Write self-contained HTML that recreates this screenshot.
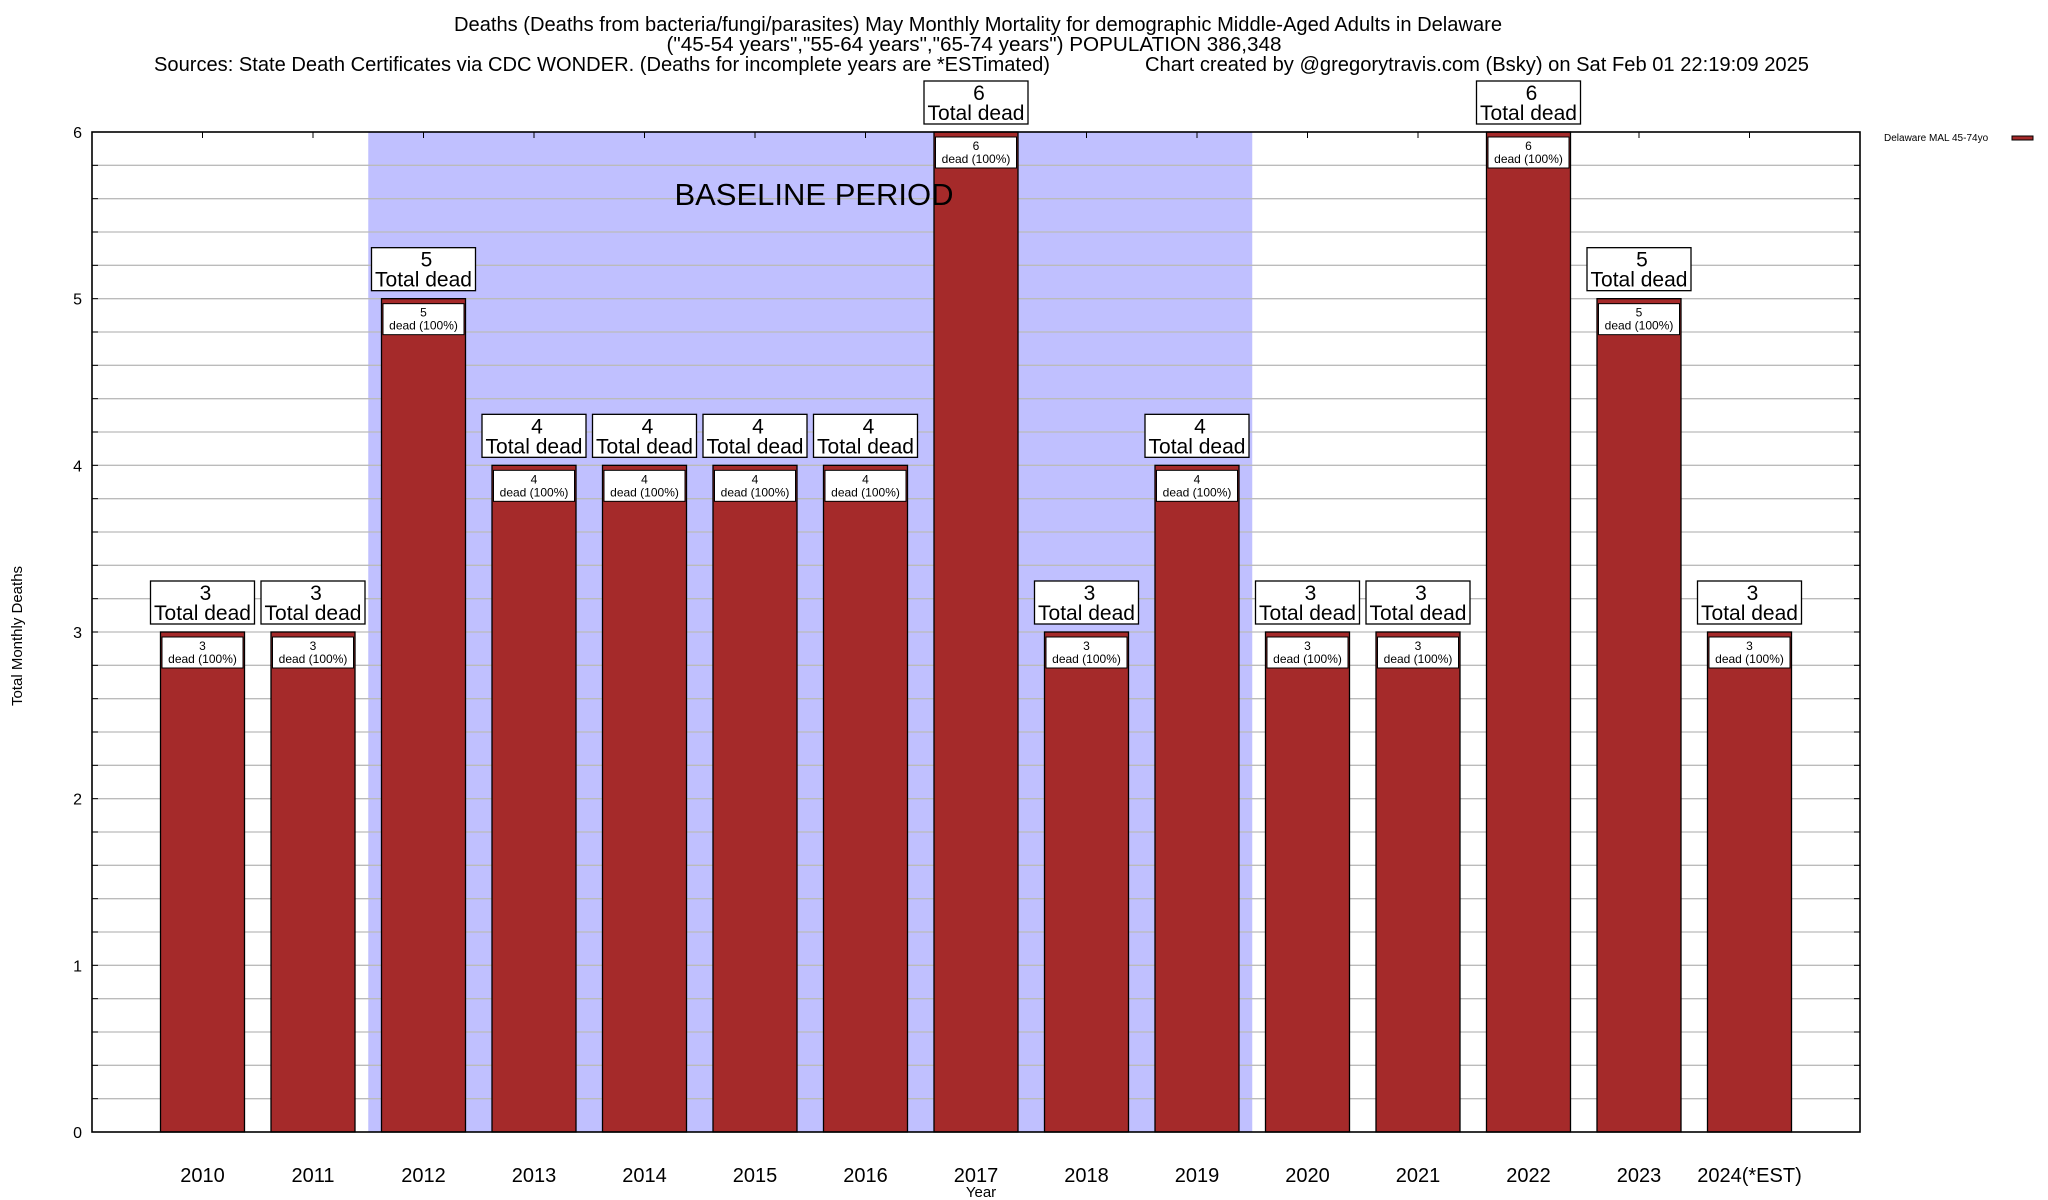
<!DOCTYPE html>
<html><head><meta charset="utf-8">
<style>html,body{margin:0;padding:0;background:#fff}svg{display:block;font-family:"Liberation Sans",sans-serif}</style>
</head><body>
<svg id="chart" width="2048" height="1200" viewBox="0 0 2048 1200" xmlns="http://www.w3.org/2000/svg">
<rect width="2048" height="1200" fill="#fff"/>
<text x="978" y="31" font-size="20" text-anchor="middle" textLength="1048" lengthAdjust="spacingAndGlyphs">Deaths (Deaths from bacteria/fungi/parasites) May Monthly Mortality for demographic Middle-Aged Adults in Delaware</text>
<text x="974" y="51" font-size="20" text-anchor="middle" textLength="615" lengthAdjust="spacingAndGlyphs">("45-54 years","55-64 years","65-74 years") POPULATION 386,348</text>
<text x="154" y="71" font-size="20" textLength="896" lengthAdjust="spacingAndGlyphs">Sources: State Death Certificates via CDC WONDER. (Deaths for incomplete years are *ESTimated)</text>
<text x="1145" y="71" font-size="20" textLength="664" lengthAdjust="spacingAndGlyphs">Chart created by @gregorytravis.com (Bsky) on Sat Feb 01 22:19:09 2025</text>
<g id="plot"></g>
<text x="22" y="636" font-size="15" text-anchor="middle" transform="rotate(-90 22 636)">Total Monthly Deaths</text>
<text x="981" y="1197" font-size="15" text-anchor="middle">Year</text>
<g>
<text x="1884" y="141" font-size="10" fill="#000">Delaware MAL 45-74yo</text>
<rect x="2012" y="136" width="21" height="4" fill="#a52a2a" stroke="#000" stroke-width="1"/>
</g>
</svg>
<script>
const categories = ["2010","2011","2012","2013","2014","2015","2016","2017","2018","2019","2020","2021","2022","2023","2024(*EST)"];
const deaths = [3,3,5,4,4,4,4,6,3,4,3,3,6,5,3];
const yTicks = [0,1,2,3,4,5,6];
const baselineStart = 2, baselineEnd = 9;

const NS = "http://www.w3.org/2000/svg";
const L = 92, R = 1860, T = 132, B = 1132, yMax = 6;
const slot = (R - L) / (categories.length + 1);
const xC = i => L + slot * (i + 1);
const yS = v => B - (v / yMax) * (B - T);
const g = document.getElementById('plot');
function mk(tag, attrs, parent) {
  const e = document.createElementNS(NS, tag);
  for (const k in attrs) e.setAttribute(k, attrs[k]);
  (parent || g).appendChild(e);
  return e;
}
// baseline shading
const shade = mk('rect', {x: xC(baselineStart) - slot/2, y: T, width: slot * (baselineEnd - baselineStart + 1), height: B - T, fill: '#c0c0ff'});


// grid
for (let k = 1; k < yMax * 5; k++) {
  const y = yS(k / 5);
  const gl = mk('line', {x1: L, x2: R, y1: y, y2: y, stroke: '#bbb', 'stroke-width': 1.3});
  
  
  mk('line', {x1: L, x2: L + 6, y1: y, y2: y, stroke: '#000', 'stroke-width': 1});
  mk('line', {x1: R - 6, x2: R, y1: y, y2: y, stroke: '#000', 'stroke-width': 1});
}
// y tick labels
yTicks.forEach(v => {
  const t = mk('text', {x: 82, y: yS(v) + 6, 'font-size': 16, 'text-anchor': 'end'});
  t.textContent = v;
  
  
});
// bars
const bw = 84;
categories.forEach((c, i) => {
  const cx = xC(i), v = deaths[i], top = yS(v);
  mk('line', {x1: cx, x2: cx, y1: T, y2: T + 6, stroke: '#000', 'stroke-width': 1});
  const bar = mk('rect', {x: cx - bw/2, y: top, width: bw, height: B - top, fill: '#a52a2a', stroke: '#000', 'stroke-width': 1.3});
  
  
  const ib = mk('rect', {x: cx - bw/2 + 1.5, y: top + 5, width: bw - 3, height: 31, fill: '#fff', stroke: '#000', 'stroke-width': 1});
  
  
  const it1 = mk('text', {x: cx, y: top + 18, 'font-size': 12, 'text-anchor': 'middle'});
  it1.textContent = v;
  
  
  const it2 = mk('text', {x: cx, y: top + 31, 'font-size': 12, 'text-anchor': 'middle'});
  it2.textContent = 'dead (100%)';
  
  
  const ob = mk('rect', {x: cx - 52, y: top - 51, width: 104, height: 43, fill: '#fff', stroke: '#000', 'stroke-width': 1.3});
  
  
  const o1 = mk('text', {x: cx + 3, y: top - 32, 'font-size': 21, 'text-anchor': 'middle'});
  o1.textContent = v;
  
  
  const o2 = mk('text', {x: cx, y: top - 12, 'font-size': 21, 'text-anchor': 'middle'});
  o2.textContent = 'Total dead';
  
  
  const xl = mk('text', {x: cx, y: 1182, 'font-size': 20, 'text-anchor': 'middle'});
  xl.textContent = c;
  
  
});
const bl = mk('text', {x: 814, y: 205, 'font-size': 31, 'text-anchor': 'middle'});
bl.textContent = 'BASELINE PERIOD';


const frame = mk('rect', {x: L, y: T, width: R - L, height: B - T, fill: 'none', stroke: '#000', 'stroke-width': 1.6});


</script>
</body></html>
